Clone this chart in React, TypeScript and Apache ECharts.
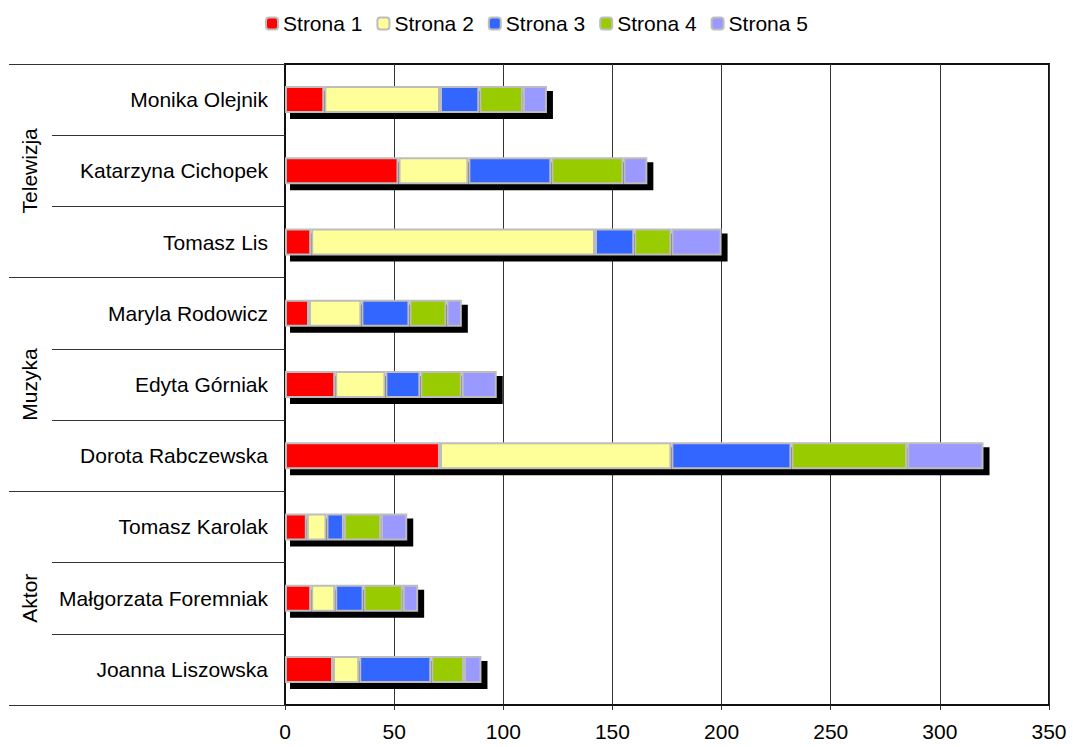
import React, { useEffect, useRef } from "react";
import * as echarts from "echarts";

const categories = [
  "Joanna Liszowska",
  "Małgorzata Foremniak",
  "Tomasz Karolak",
  "Dorota Rabczewska",
  "Edyta Górniak",
  "Maryla Rodowicz",
  "Tomasz Lis",
  "Katarzyna Cichopek",
  "Monika Olejnik",
];
const groups = ["Aktor", "Muzyka", "Telewizja"];
const seriesNames = ["Strona 1", "Strona 2", "Strona 3", "Strona 4", "Strona 5"];
const strona1 = [22, 12, 10, 71, 23, 11, 12, 52, 18];
const strona2 = [12, 11, 9, 106, 23, 24, 130, 32, 53];
const strona3 = [33, 13, 8, 55, 16, 22, 18, 38, 18];
const strona4 = [15, 18, 17, 53, 19, 17, 17, 33, 20];
const strona5 = [8, 7, 12, 35, 16, 7, 23, 11, 11];
const colors = ["#FF0000", "#FFFF99", "#3366FF", "#99CC00", "#9999FF"];
const xTicks = { min: 0, max: 350, interval: 50 };

const FONT = "'Liberation Sans', Arial, sans-serif";
const FS = 21;
const BAR_H = 27;
const SHADOW_OFF = 5;

export default function App() {
  const ref = useRef<HTMLDivElement>(null);
  useEffect(() => {
    if (!ref.current) return;
    const chart = echarts.init(ref.current, null, { renderer: "svg" });
    const all = [strona1, strona2, strona3, strona4, strona5];
    const totals = categories.map((_, i) => all.reduce((s, a) => s + a[i], 0));
    const barSeries = all.map((d, k) => ({
      name: seriesNames[k],
      type: "bar",
      stack: "total",
      data: d,
      barWidth: BAR_H,
      z: 3,
      itemStyle: { color: colors[k], borderColor: "#BDBDBD", borderWidth: 2 },
      emphasis: { disabled: true },
    }));
    chart.setOption({
      animation: false,
      textStyle: { fontFamily: FONT },
      legend: {
        top: 8,
        left: "center",
        data: seriesNames,
        itemWidth: 12,
        itemHeight: 12,
        itemGap: 14,
        textStyle: { fontSize: FS, color: "#000", fontFamily: FONT },
      },
      grid: {
        left: 285,
        right: 24,
        top: 64,
        bottom: 42,
        show: true,
        borderColor: "#111",
        borderWidth: 2,
      },
      xAxis: {
        type: "value",
        min: xTicks.min,
        max: xTicks.max,
        interval: xTicks.interval,
        axisLine: { show: true, lineStyle: { color: "#111", width: 2 } },
        axisTick: { show: true, length: 5, lineStyle: { color: "#333" } },
        axisLabel: { fontSize: FS, color: "#000", margin: 16, fontFamily: FONT },
        splitLine: { show: true, lineStyle: { color: "#333", width: 1 } },
      },
      yAxis: [
        {
          type: "category",
          data: categories,
          position: "left",
          axisLine: { show: true, lineStyle: { color: "#111", width: 2 } },
          axisTick: { show: true, length: 233, lineStyle: { color: "#333", width: 1 } },
          axisLabel: { fontSize: FS, color: "#000", margin: 17, fontFamily: FONT },
          splitLine: { show: false },
        },
        {
          type: "category",
          data: groups,
          position: "left",
          offset: 0,
          axisLine: { show: false },
          axisTick: { show: true, length: 276, lineStyle: { color: "#333", width: 1 } },
          axisLabel: {
            fontSize: FS,
            color: "#000",
            rotate: 90,
            margin: 245,
            interval: 0,
            fontFamily: FONT,
          },
          splitLine: { show: false },
        },
      ],
      series: [
        {
          name: "shadow",
          type: "custom",
          z: 2,
          silent: true,
          encode: { x: 0, y: 1 },
          data: totals.map((t, i) => [t, i]),
          renderItem: (params: any, api: any) => {
            const total = api.value(0);
            const idx = api.value(1);
            const p0 = api.coord([0, idx]);
            const p1 = api.coord([total, idx]);
            return {
              type: "rect",
              shape: {
                x: p0[0] + SHADOW_OFF,
                y: p0[1] - BAR_H / 2 + SHADOW_OFF,
                width: p1[0] - p0[0] + 1,
                height: BAR_H + 1,
              },
              style: { fill: "#000" },
            };
          },
        },
        ...barSeries,
      ],
    });
    return () => chart.dispose();
  }, []);
  return (
    <div
      ref={ref}
      style={{ position: "fixed", left: 0, top: 0, width: 1073, height: 747, background: "#fff" }}
    />
  );
}
